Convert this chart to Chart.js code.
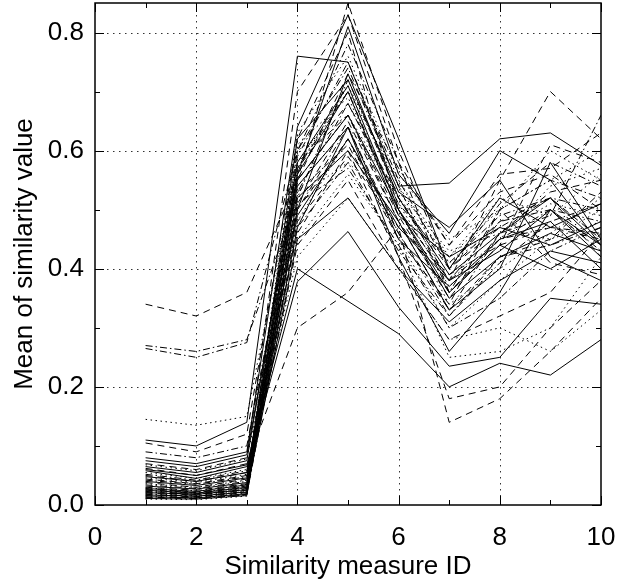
<!DOCTYPE html>
<html>
<head>
<meta charset="utf-8">
<script src="https://cdn.jsdelivr.net/npm/chart.js@4"></script>
<style>
  html, body { margin: 0; padding: 0; background: #fff; }
</style>
</head>
<body>
<canvas id="chart" width="622" height="579"></canvas>
<script>
const measureIds = [1, 2, 3, 4, 5, 6, 7, 8, 9, 10];

const xMajorTicks = [0, 2, 4, 6, 8, 10];
const xMinorTicks = [1, 3, 5, 7, 9];
const yMajorTicks = [0, 0.2, 0.4, 0.6, 0.8];
const yMinorTicks = [0.1, 0.3, 0.5, 0.7];
const yTickLabels = ['0.0', '0.2', '0.4', '0.6', '0.8'];

// one row per curve, values at measure ID 1..10
const seriesValues = [
  [0.34, 0.32, 0.36, 0.55, 0.85, 0.60, 0.40, 0.47, 0.52, 0.45],
  [0.27, 0.26, 0.28, 0.52, 0.72, 0.52, 0.38, 0.45, 0.50, 0.48],
  [0.265, 0.25, 0.275, 0.60, 0.78, 0.58, 0.36, 0.50, 0.55, 0.52],
  [0.145, 0.135, 0.15, 0.58, 0.70, 0.55, 0.42, 0.50, 0.60, 0.55],
  [0.11, 0.10, 0.14, 0.76, 0.75, 0.54, 0.545, 0.62, 0.63, 0.575],
  [0.105, 0.09, 0.12, 0.62, 0.80, 0.50, 0.38, 0.55, 0.70, 0.62],
  [0.09, 0.08, 0.10, 0.55, 0.66, 0.48, 0.33, 0.46, 0.49, 0.66],
  [0.08, 0.07, 0.09, 0.64, 0.83, 0.62, 0.40, 0.52, 0.47, 0.51],
  [0.075, 0.065, 0.085, 0.56, 0.81, 0.56, 0.46, 0.60, 0.55, 0.44],
  [0.07, 0.06, 0.08, 0.70, 0.83, 0.58, 0.44, 0.56, 0.57, 0.63],
  [0.068, 0.058, 0.078, 0.48, 0.62, 0.45, 0.30, 0.38, 0.45, 0.50],
  [0.065, 0.055, 0.075, 0.58, 0.71, 0.50, 0.36, 0.44, 0.40, 0.45],
  [0.062, 0.05, 0.07, 0.30, 0.36, 0.47, 0.14, 0.18, 0.26, 0.35],
  [0.06, 0.05, 0.068, 0.40, 0.345, 0.29, 0.20, 0.24, 0.22, 0.28],
  [0.058, 0.045, 0.065, 0.378, 0.463, 0.335, 0.235, 0.25, 0.35, 0.34],
  [0.055, 0.045, 0.06, 0.42, 0.52, 0.40, 0.28, 0.30, 0.26, 0.33],
  [0.052, 0.042, 0.058, 0.50, 0.64, 0.46, 0.32, 0.42, 0.44, 0.47],
  [0.05, 0.04, 0.055, 0.46, 0.60, 0.42, 0.18, 0.20, 0.30, 0.38],
  [0.048, 0.04, 0.055, 0.54, 0.64, 0.42, 0.26, 0.36, 0.50, 0.44],
  [0.046, 0.038, 0.052, 0.52, 0.58, 0.50, 0.34, 0.40, 0.46, 0.52],
  [0.044, 0.036, 0.05, 0.57, 0.68, 0.52, 0.40, 0.48, 0.52, 0.42],
  [0.042, 0.035, 0.048, 0.60, 0.74, 0.54, 0.36, 0.45, 0.47, 0.46],
  [0.04, 0.033, 0.046, 0.49, 0.62, 0.47, 0.38, 0.43, 0.50, 0.42],
  [0.038, 0.03, 0.044, 0.55, 0.73, 0.57, 0.44, 0.53, 0.56, 0.50],
  [0.036, 0.03, 0.042, 0.63, 0.76, 0.56, 0.45, 0.50, 0.55, 0.60],
  [0.034, 0.028, 0.04, 0.51, 0.57, 0.44, 0.30, 0.35, 0.43, 0.47],
  [0.032, 0.027, 0.038, 0.62, 0.72, 0.53, 0.47, 0.55, 0.42, 0.38],
  [0.03, 0.025, 0.036, 0.58, 0.66, 0.49, 0.35, 0.46, 0.53, 0.55],
  [0.029, 0.024, 0.035, 0.45, 0.56, 0.44, 0.25, 0.26, 0.30, 0.42],
  [0.028, 0.023, 0.034, 0.52, 0.60, 0.48, 0.33, 0.40, 0.58, 0.45],
  [0.027, 0.022, 0.032, 0.44, 0.55, 0.40, 0.28, 0.32, 0.36, 0.46],
  [0.026, 0.021, 0.031, 0.57, 0.70, 0.50, 0.38, 0.48, 0.50, 0.43],
  [0.025, 0.02, 0.03, 0.47, 0.64, 0.45, 0.37, 0.45, 0.48, 0.40],
  [0.024, 0.02, 0.029, 0.60, 0.66, 0.52, 0.42, 0.52, 0.49, 0.56],
  [0.023, 0.019, 0.028, 0.50, 0.62, 0.46, 0.33, 0.42, 0.45, 0.53],
  [0.022, 0.018, 0.027, 0.53, 0.68, 0.51, 0.41, 0.49, 0.52, 0.50],
  [0.021, 0.018, 0.026, 0.56, 0.70, 0.49, 0.42, 0.47, 0.44, 0.48],
  [0.02, 0.017, 0.025, 0.48, 0.59, 0.47, 0.39, 0.44, 0.47, 0.45],
  [0.019, 0.016, 0.024, 0.54, 0.64, 0.53, 0.43, 0.46, 0.51, 0.49],
  [0.018, 0.015, 0.023, 0.59, 0.75, 0.55, 0.40, 0.51, 0.58, 0.54],
  [0.017, 0.015, 0.022, 0.45, 0.52, 0.40, 0.31, 0.38, 0.43, 0.41],
  [0.016, 0.014, 0.021, 0.51, 0.65, 0.48, 0.36, 0.44, 0.61, 0.58],
  [0.015, 0.013, 0.02, 0.61, 0.69, 0.51, 0.37, 0.45, 0.54, 0.57],
  [0.014, 0.012, 0.019, 0.50, 0.73, 0.52, 0.39, 0.46, 0.52, 0.44],
  [0.013, 0.012, 0.018, 0.53, 0.61, 0.45, 0.34, 0.50, 0.41, 0.39],
  [0.012, 0.011, 0.017, 0.47, 0.58, 0.43, 0.32, 0.41, 0.48, 0.51],
  [0.011, 0.01, 0.016, 0.55, 0.66, 0.50, 0.35, 0.42, 0.46, 0.43],
  [0.01, 0.009, 0.015, 0.57, 0.71, 0.54, 0.41, 0.47, 0.45, 0.48]
];

// line style of each curve: solid, dashed, dotted, dashdot
const seriesStyles = [
  'dashed', 'dashdot', 'dashdot', 'dotted', 'solid', 'dashed', 'dashdot', 'solid',
  'solid', 'dashed', 'dotted', 'solid', 'dashed', 'solid', 'solid', 'dotted',
  'dashdot', 'dashed', 'solid', 'dotted', 'dashed', 'dashdot', 'solid', 'dashed',
  'dotted', 'dashdot', 'solid', 'dashed', 'dotted', 'solid', 'dashed', 'dashdot',
  'solid', 'dotted', 'dashed', 'dashdot', 'solid', 'dashed', 'dotted', 'dashdot',
  'solid', 'dashed', 'dotted', 'solid', 'dashed', 'dashdot', 'solid', 'dotted'
];

const dashes = {
  solid: [],
  dashed: [7, 5],
  dotted: [1.5, 3.5],
  dashdot: [7, 3, 1.5, 3]
};

const FONT = "'Liberation Sans', Arial, Helvetica, sans-serif";

const datasets = seriesValues.map((vals, i) => ({
  label: 'curve ' + (i + 1),
  data: vals.map((v, k) => ({ x: measureIds[k], y: v })),
  borderColor: '#000',
  borderWidth: 1,
  borderDash: dashes[seriesStyles[i]],
  pointRadius: 0,
  fill: false,
  tension: 0
}));

// dotted grid, frame and inward tick marks like the original plot
const framePlugin = {
  id: 'frame',
  beforeDatasetsDraw(chart) {
    const { ctx, chartArea: a, scales: { x, y } } = chart;
    ctx.save();
    ctx.strokeStyle = '#333';
    ctx.lineWidth = 1;
    ctx.setLineDash([1.5, 4.5]);
    ctx.beginPath();
    xMajorTicks.forEach(v => {
      const px = Math.round(x.getPixelForValue(v)) + 0.5;
      if (v > x.min && v < x.max) { ctx.moveTo(px, a.top); ctx.lineTo(px, a.bottom); }
    });
    yMajorTicks.forEach(v => {
      const py = Math.round(y.getPixelForValue(v)) + 0.5;
      if (v > y.min) { ctx.moveTo(a.left, py); ctx.lineTo(a.right, py); }
    });
    ctx.stroke();
    ctx.restore();
  },
  afterDatasetsDraw(chart) {
    const { ctx, chartArea: a, scales: { x, y } } = chart;
    ctx.save();
    ctx.strokeStyle = '#000';
    ctx.lineWidth = 1;
    ctx.setLineDash([]);
    ctx.beginPath();
    const tickX = (v, len) => {
      const px = Math.round(x.getPixelForValue(v)) + 0.5;
      ctx.moveTo(px, a.bottom); ctx.lineTo(px, a.bottom - len);
      ctx.moveTo(px, a.top); ctx.lineTo(px, a.top + len);
    };
    const tickY = (v, len) => {
      const py = Math.round(y.getPixelForValue(v)) + 0.5;
      ctx.moveTo(a.left, py); ctx.lineTo(a.left + len, py);
      ctx.moveTo(a.right, py); ctx.lineTo(a.right - len, py);
    };
    xMajorTicks.forEach(v => tickX(v, 9));
    xMinorTicks.forEach(v => tickX(v, 5));
    yMajorTicks.forEach(v => tickY(v, 9));
    yMinorTicks.forEach(v => tickY(v, 5));
    ctx.stroke();
    ctx.lineWidth = 1.5;
    ctx.strokeRect(a.left, a.top, a.right - a.left, a.bottom - a.top);
    ctx.restore();
  }
};

new Chart(document.getElementById('chart'), {
  type: 'line',
  data: { datasets },
  plugins: [framePlugin],
  options: {
    responsive: false,
    animation: false,
    layout: { padding: { top: 3, right: 21, left: 0, bottom: 0 } },
    plugins: {
      legend: { display: false },
      tooltip: { enabled: false }
    },
    scales: {
      x: {
        type: 'linear',
        min: 0,
        max: 10,
        afterBuildTicks: s => { s.ticks = xMajorTicks.map(v => ({ value: v })); },
        afterFit: s => { s.height = 74; s.paddingLeft = 0; s.paddingRight = 0; },
        grid: { display: false, drawTicks: false },
        border: { display: false },
        ticks: {
          padding: 17,
          color: '#000',
          font: { family: FONT, size: 26 },
          maxRotation: 0,
          callback: v => String(v)
        },
        title: {
          display: true,
          text: 'Similarity measure ID',
          color: '#000',
          font: { family: FONT, size: 26 },
          padding: { top: 0, bottom: -3 }
        }
      },
      y: {
        min: 0,
        max: 0.85,
        afterBuildTicks: s => { s.ticks = yMajorTicks.map(v => ({ value: v })); },
        afterFit: s => { s.width = 95; s.paddingTop = 0; s.paddingBottom = 0; },
        grid: { display: false, drawTicks: false },
        border: { display: false },
        ticks: {
          padding: 11,
          color: '#000',
          font: { family: FONT, size: 26 },
          callback: (v, i) => yTickLabels[i]
        },
        title: {
          display: true,
          text: 'Mean of similarity value',
          color: '#000',
          font: { family: FONT, size: 26 },
          padding: { top: 9, bottom: 0 }
        }
      }
    }
  }
});
</script>
</body>
</html>
